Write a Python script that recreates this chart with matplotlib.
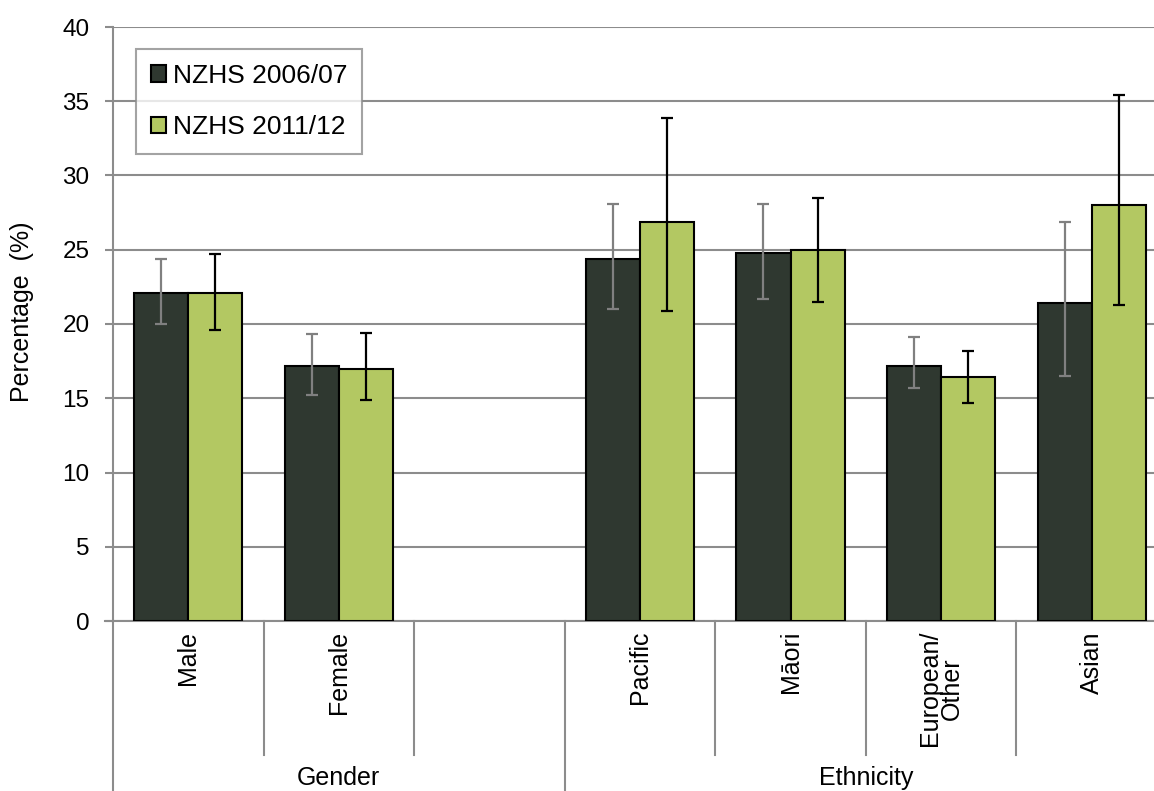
import numpy as np
import matplotlib.pyplot as plt

plt.rcParams['font.family'] = ['Liberation Sans', 'DejaVu Sans']

categories = ['Male', 'Female', '', 'Pacific', 'Māori', 'European/\nOther', 'Asian']
groups = ['Gender', 'Ethnicity']
group_spans = [(0, 3), (3, 7)]

series_names = ['NZHS 2006/07', 'NZHS 2011/12']
vals_0607 = [22.1, 17.2, np.nan, 24.4, 24.8, 17.2, 21.4]
low_0607 = [20.0, 15.2, np.nan, 21.0, 21.7, 15.7, 16.5]
high_0607 = [24.4, 19.3, np.nan, 28.1, 28.1, 19.1, 26.9]
vals_1112 = [22.1, 17.0, np.nan, 26.9, 25.0, 16.4, 28.0]
low_1112 = [19.6, 14.9, np.nan, 20.9, 21.5, 14.7, 21.3]
high_1112 = [24.7, 19.4, np.nan, 33.9, 28.5, 18.2, 35.4]

yticks = [0, 5, 10, 15, 20, 25, 30, 35, 40]

c_dark = '#2f3830'
c_green = '#b3c862'
grid_c = '#8c8c8c'

fig = plt.figure(figsize=(11.54, 7.91), dpi=100)
ax = fig.add_axes([113 / 1154, 170 / 791, (1167 - 113) / 1154, 594 / 791])

x = np.arange(len(categories)) + 0.5
w = 0.36

v0 = np.array(vals_0607)
v1 = np.array(vals_1112)
err0 = [v0 - np.array(low_0607), np.array(high_0607) - v0]
err1 = [v1 - np.array(low_1112), np.array(high_1112) - v1]

ax.bar(x - w / 2, v0, w, color=c_dark, edgecolor='black', linewidth=1.5,
       label=series_names[0], zorder=3)
ax.bar(x + w / 2, v1, w, color=c_green, edgecolor='black', linewidth=1.5,
       label=series_names[1], zorder=3)
ax.errorbar(x - w / 2, v0, yerr=err0, fmt='none', ecolor='#808080',
            elinewidth=1.6, capsize=4.3, capthick=1.6, zorder=4)
ax.errorbar(x + w / 2, v1, yerr=err1, fmt='none', ecolor='black',
            elinewidth=1.6, capsize=4.3, capthick=1.6, zorder=4)

ax.set_xlim(0, len(categories))
ax.set_ylim(0, 40)
ax.set_yticks(yticks)
ax.yaxis.grid(True, color=grid_c, linewidth=1.5, zorder=0)
ax.set_axisbelow(True)
ax.tick_params(axis='y', length=6, width=1.5, color=grid_c, labelsize=17.5, pad=11)
ax.set_xticks([])
for s in ['top', 'right']:
    ax.spines[s].set_visible(False)
for s in ['left', 'bottom']:
    ax.spines[s].set_color(grid_c)
    ax.spines[s].set_linewidth(1.5)
ax.spines['bottom'].set_bounds(-8 / 150.6, len(categories))

# multi-level category axis
px = 1 / 594
for i, lab in enumerate(categories):
    ax.text(x[i], -10 * px, lab, rotation=90, ha='center', va='top',
            multialignment='center', linespacing=0.9,
            fontsize=18, transform=ax.get_xaxis_transform())
starts = [s for s, e in group_spans]
for b in range(len(categories) + 1):
    bottom = -175 * px if b in starts or b == len(categories) else -134 * px
    ax.plot([b, b], [0, bottom], color=grid_c, linewidth=1.5, clip_on=False,
            transform=ax.get_xaxis_transform())
for g, (s, e) in zip(groups, group_spans):
    ax.text((s + e) / 2, -164 * px, g, ha='center', va='baseline', fontsize=18,
            transform=ax.get_xaxis_transform())

fig.text(22 / 1154, (791 - 312) / 791, 'Percentage  (%)', rotation=90,
         ha='center', va='center', fontsize=18)

leg = ax.legend(loc='upper left', bbox_to_anchor=(23 / 1054, 1 - 22 / 594),
                fontsize=19, frameon=True, fancybox=False, handlelength=0.6,
                handleheight=0.6, handletextpad=0.25, labelspacing=1.05,
                borderpad=0.55, borderaxespad=0)
leg.get_frame().set_edgecolor(grid_c)
leg.get_frame().set_linewidth(1.5)

fig.savefig('out.png', dpi=100)
